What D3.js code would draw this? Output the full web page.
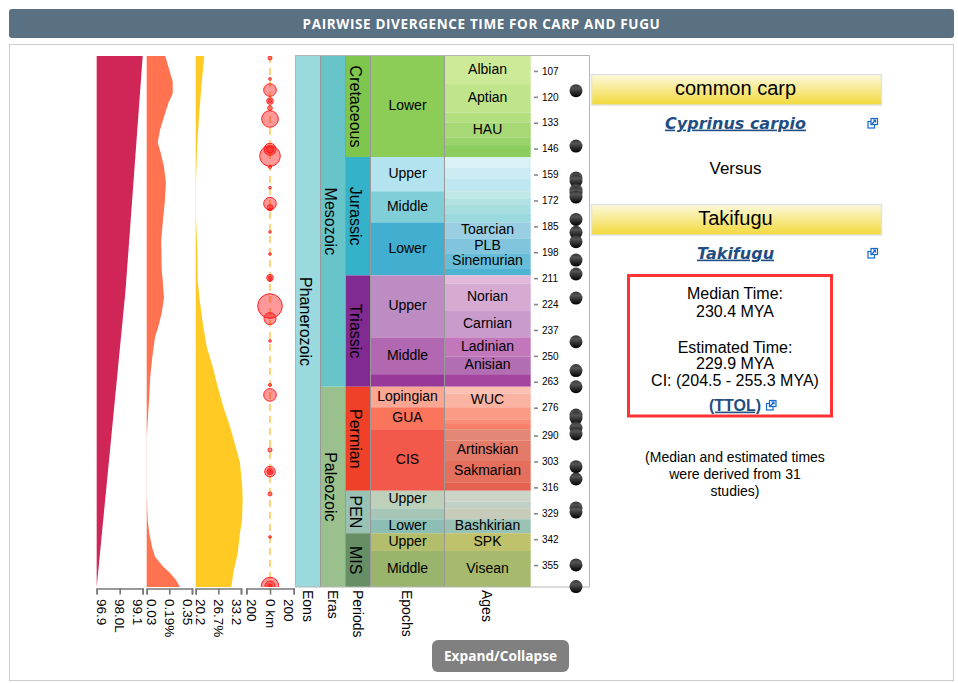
<!DOCTYPE html>
<html><head><meta charset="utf-8">
<script src="https://cdn.jsdelivr.net/npm/d3@7"></script>
<style>
html,body{margin:0;padding:0;background:#fff;overflow:hidden}
svg{display:block}
text{font-family:"Liberation Sans",Arial,sans-serif;fill:#000}
</style></head><body>
<script>
// ---------- data (all times in millions of years ago) ----------
const chartTitle = "PAIRWISE DIVERGENCE TIME FOR CARP AND FUGU";
const timeDomain = [99.5, 366];
const timeTicks = [107,120,133,146,159,172,185,198,211,224,237,250,263,276,290,303,316,329,342,355];

const eonNames = ["Phanerozoic"];
const eonBreaks = [99.5, 366];
const eonColors = ["#9AD9DD"];
const eraNames = ["Mesozoic","Paleozoic"];
const eraBreaks = [99.5, 265.5, 366];
const eraColors = ["#67C5CA","#99C08D"];
const periodNames = ["Cretaceous","Jurassic","Triassic","Permian","PEN","MIS"];
const periodBreaks = [99.5,150.2,209.6,265.5,317.7,339.0,366];
const periodColors = ["#7FC64E","#34B2C9","#812B92","#F04028","#99C2B5","#678F66"];
const epochNames = ["Lower","Upper","Middle","Lower","Upper","Middle","","Lopingian","GUA","CIS","Upper","","Lower","Upper","Middle"];
const epochBreaks = [99.5,150.2,167.4,183.0,209.6,240.7,259.2,265.5,275.8,286.8,317.7,326.5,332.0,339.0,347.9,366];
const epochColors = ["#8CCD57","#B3E3EE","#80CFD8","#42AED0","#BD8CC3","#B168B1","#983999","#FBA794","#FB745C","#F2594A","#BFD0BA","#A6C7B7","#8CBEB4","#B3BE6C","#99B46C"];
const ageNames = ["Albian","Aptian","","HAU","","",
  "","","","","","","","Toarcian","PLB","Sinemurian","",
  "","Norian","Carnian","Ladinian","Anisian","",
  "","WUC","","","","","Artinskian","Sakmarian","",
  "","","","Bashkirian","SPK","Visean"];
const ageBreaks = [99.5,113.6,127.8,132.8,140.3,144.2,150.2,
  155.7,161.2,167.4,170.9,174.3,178.4,183.0,191.0,198.5,206.0,209.6,
  213.6,227.5,240.7,250.4,259.2,265.5,
  268.8,275.8,281.8,284.2,286.8,292.6,302.3,313.4,317.7,
  323.2,326.5,332.0,339.0,347.9,366];
const ageColors = ["#CCEA97","#BFE48A","#B3DF7F","#A6D975","#99D36A","#8CCD60",
  "#D9F1F7","#CCECF4","#BFE7F1","#BFE7E5","#B3E2E3","#A6DDE0","#9AD9DD","#99CEE3","#80C5DD","#67BCD8","#4EB3D3",
  "#E3B9DB","#D6AAD3","#C99BCB","#C277BA","#B26EB2","#A4469F",
  "#FCC0B2","#FCB4A2","#FB9A85","#FB8D76","#FB8069","#E38776","#E37B68","#E36F5C","#E36350",
  "#CCD4C7","#BFD0C5","#C7CBB9","#99C2B5","#BFC26B","#A6B96C"];

const co2Time = [99.5, 217, 366];
const co2Values = [99.1, 98.28, 96.9];
const o2Time = [99.5,112.4,118.2,123.2,130,136.6,142.8,148.2,155.1,163.2,171.8,183.3,191.8,206.9,211.9,220.9,228.5,235.4,240.4,250.4,260.5,270.5,280.5,290.6,320.7,332.4,338.9,345.8,350.8,355.8,359,362.5,366];
const o2Values = [0.161,0.214,0.214,0.183,0.152,0.124,0.108,0.129,0.152,0.166,0.159,0.143,0.133,0.136,0.143,0.152,0.136,0.112,0.089,0.07,0.055,0.048,0.039,0.031,0.031,0.037,0.048,0.067,0.089,0.147,0.195,0.237,0.265];
const tempTime = [99.5,113.1,130,146.7,163.2,180.2,196.9,211.9,222,232,245.4,255.4,265.5,275.5,285.5,295.6,303.8,315.7,322.3,332.4,338.9,349,359,366];
const tempValues = [22.67,21.92,21.15,20.57,20.29,20.29,20.66,20.77,21.35,22.09,23.36,25.08,26.51,28.12,30.04,31.68,32.91,33.57,33.69,33.49,32.91,32.25,30.99,30.42];

const impactTime = [100.5,111,116.6,122.1,122.1,125.6,131.1,146.3,146.3,149.7,155.2,165.6,173.6,175.6,176.4,187.8,198.9,210.8,210.8,212.1,225,231.3,242.5,264.6,269.6,297.2,308.1,308.1,308.1,319.3,340.9,365.5,365.5,365.5];
const impactSize = [4,1.7,39.7,10.9,2.9,5.3,69,36,13.7,106,2.2,1.7,39.7,9,2.2,1.7,1.7,10.9,2.9,1.7,151,36,1.7,2.2,39.7,4,28,9,2.2,4,1.7,76,25,4];

const studyTimes = [116.9,144.7,160.7,162.2,166.8,168.3,170.3,181.5,188,192.7,201.9,208.9,221,242.9,257.4,265.5,279.7,281.2,286.2,289.2,305.6,311.8,326.3,328.4,354.9,365.8];

const axisA = {domain:[96.9,99.1], ticks:[96.9,98.0,99.1], labels:["96.9","98.0L","99.1"]};
const axisB = {domain:[0.03,0.35], ticks:[0.03,0.19,0.35], labels:["0.03","0.19%","0.35"]};
const axisC = {domain:[20.2,33.2], ticks:[20.2,26.7,33.2], labels:["20.2","26.7%","33.2"]};
const axisD = {domain:[-200,200], ticks:[-200,0,200], labels:["200","0 km","200"]};
const columnTitles = ["Eons","Eras","Periods","Epochs","Ages"];

// ---------- layout ----------
const W=958,H=683, plotTop=56, plotBottom=587;
const y = d3.scaleLinear().domain(timeDomain).range([plotTop,plotBottom]);
const col = {eon:[295.3,320.7],era:[320.7,345.3],per:[345.3,370.7],epo:[370.7,444.3],age:[444.3,530.7]};
const svg = d3.select("body").append("svg").attr("width",W).attr("height",H);
const defs = svg.append("defs");
function lin(id,stops){const g=defs.append("linearGradient").attr("id",id).attr("x1",0).attr("x2",0).attr("y1",0).attr("y2",1);
  stops.forEach(s=>g.append("stop").attr("offset",s[0]).attr("stop-color",s[1]));}
lin("banner",[[0,"#FDF9DD"],[1,"#F2D93A"]]);
lin("ball",[[0,"#333"],[0.3,"#555"],[1,"#000"]]);
defs.append("clipPath").attr("id","plot").append("rect").attr("x",90).attr("y",plotTop).attr("width",205).attr("height",plotBottom-plotTop);

// header + frame
svg.append("rect").attr("x",9).attr("y",9).attr("width",945).attr("height",29).attr("rx",3).attr("fill","#5A7083");
svg.append("text").attr("x",481.5).attr("y",29).attr("text-anchor","middle").style("letter-spacing","0.62px")
  .style("font-family","'Open Sans'").style("font-weight",700).style("font-size","13.5px").style("fill","#fff").text(chartTitle);
svg.append("rect").attr("x",9.5).attr("y",44.5).attr("width",944).attr("height",636).attr("fill","none").attr("stroke","#ccc");

// geologic columns
function band(names,breaks,colors,xr,rot,fs){
  const g=svg.append("g");
  g.selectAll("rect").data(colors).join("rect")
    .attr("x",xr[0]).attr("width",xr[1]-xr[0])
    .attr("y",(d,i)=>y(breaks[i])).attr("height",(d,i)=>y(breaks[i+1])-y(breaks[i])).attr("fill",d=>d);
  const mx=(xr[0]+xr[1])/2;
  g.selectAll("text").data(names).join("text")
    .attr("text-anchor","middle").attr("dy",rot?".5em":".35em").style("font-size",fs+"px")
    .attr("transform",(d,i)=>{const m=(y(breaks[i])+y(breaks[i+1]))/2;
      return rot?`translate(${mx},${m}) rotate(90)`:`translate(${mx},${m-1})`;})
    .text(d=>d);
}
band(eonNames,eonBreaks,eonColors,col.eon,true,16);
band(eraNames,eraBreaks,eraColors,col.era,true,16);
band(periodNames,periodBreaks,periodColors,col.per,true,16);
band(epochNames,epochBreaks,epochColors,col.epo,false,14);
band(ageNames,ageBreaks,ageColors,col.age,false,14);

// frame + column lines
const lines=svg.append("g").attr("stroke","#999").attr("fill","none");
[295.5,320.5,345.5,370.5,444.5].forEach(x=>lines.append("line").attr("x1",x).attr("x2",x).attr("y1",plotTop).attr("y2",plotBottom));
lines.append("rect").attr("x",295.5).attr("y",plotTop-.5).attr("width",294).attr("height",plotBottom-plotTop+.5).attr("stroke","#b5b5b5");

// time axis
const tAxis=svg.append("g").attr("transform","translate(534,0)").call(d3.axisRight(y).tickValues(timeTicks).tickSize(4).tickPadding(4).tickFormat(d=>d));
tAxis.select(".domain").remove();
tAxis.selectAll("line").attr("stroke","#888").attr("stroke-width",1.6);
tAxis.selectAll("text").style("font-size","10px").style("font-family","'Liberation Sans'");

// study dots
svg.append("g").selectAll("circle").data(studyTimes).join("circle")
  .attr("cx",576).attr("cy",d=>y(d)).attr("r",6.5).attr("fill","url(#ball)");

// side panels
const xA=d3.scaleLinear().domain(axisA.domain).range([96.7,142.7]);
const xB=d3.scaleLinear().domain(axisB.domain).range([146.7,192]);
const xC=d3.scaleLinear().domain(axisC.domain).range([195.7,241]);
const xD=d3.scaleLinear().domain(axisD.domain).range([246.3,293.7]);
function areaPanel(times,vals,xs,color){
  const a=d3.area().x0(xs.range()[0]).x1((d,i)=>xs(vals[i])).y(d=>y(d));
  svg.append("path").attr("d",a(times)).attr("fill",color);
}
areaPanel(co2Time,co2Values,xA,"#CF2557");
areaPanel(o2Time,o2Values,xB,"#FF7350");
areaPanel(tempTime,tempValues,xC,"#FFCA24");

svg.append("line").attr("x1",xD(0)).attr("x2",xD(0)).attr("y1",plotTop).attr("y2",plotBottom)
  .attr("stroke","#FFD27F").attr("stroke-width",2).attr("stroke-dasharray","7 5");
const rScale=d3.scaleSqrt().domain([0,151]).range([0,12.3]);
svg.append("g").attr("clip-path","url(#plot)").selectAll("circle").data(impactTime).join("circle")
  .attr("cx",xD(0)).attr("cy",d=>y(d)).attr("r",(d,i)=>rScale(impactSize[i]))
  .attr("fill","rgba(255,0,0,.4)").attr("stroke","#f22").attr("stroke-width",1);

[[axisA,xA],[axisB,xB],[axisC,xC],[axisD,xD]].forEach(([ax,sc])=>{
  const g=svg.append("g").attr("transform","translate(0,588.5)")
    .call(d3.axisBottom(sc).tickValues(ax.ticks).tickSize(6).tickFormat((d,i)=>ax.labels[i]));
  g.selectAll("path,line").attr("stroke","#777").attr("stroke-width",1.6);
  g.selectAll("text").attr("text-anchor","start").style("font-size","13.5px").style("font-family","'Liberation Sans'")
    .attr("dy",0).attr("x",0)
    .attr("y",(d,i)=>["0",".36em",".72em"][i])
    .attr("transform","translate(0,10.5) rotate(90)");
});

// column titles
const titleX=[307.7,332.7,357.7,406.7,487.3];
svg.append("g").selectAll("text").data(columnTitles).join("text")
  .attr("transform",(d,i)=>`translate(${titleX[i]},590) rotate(90)`).attr("dy",".35em")
  .style("font-size","14px").text(d=>d);

// right panel
const panelX=735.5;
function banner(yTop,label){
  svg.append("rect").attr("x",591.5).attr("y",yTop).attr("width",290).attr("height",30.5)
    .attr("fill","url(#banner)").attr("stroke","#e2e2e2").attr("stroke-width",1.4);
  svg.append("text").attr("x",panelX).attr("y",yTop+13.5).attr("dy",".35em").attr("text-anchor","middle").style("font-size","20px").text(label);
}
function icon(x,yc){
  const g=svg.append("g").attr("transform",`translate(${x},${yc})`).attr("fill","none").attr("stroke","#1468D0").attr("stroke-width",1.2);
  g.append("rect").attr("x",-4.5).attr("y",-1.5).attr("width",6.5).attr("height",6.5).attr("fill","#fff");
  g.append("rect").attr("x",-1.5).attr("y",-4.5).attr("width",6.5).attr("height",6).attr("fill","#fff");
  g.append("path").attr("d","M-1.5,2 L3,-3 M0.5,-3 H3 V-0.5");
}
function speciesLink(yc,label){
  svg.append("text").attr("x",panelX).attr("y",yc).attr("dy",".35em").attr("text-anchor","middle")
    .style("font-family","'DejaVu Sans'").style("font-weight",700).style("font-style","italic").style("font-size","16px")
    .style("fill","#1F4E83").style("text-decoration","underline").text(label);
  icon(872.5,yc);
}
banner(74.5,"common carp");
speciesLink(123,"Cyprinus carpio");
svg.append("text").attr("x",panelX).attr("y",168).attr("dy",".35em").attr("text-anchor","middle").style("font-size","17px").text("Versus");
banner(204.5,"Takifugu");
speciesLink(253,"Takifugu");

svg.append("rect").attr("x",628.5).attr("y",275.5).attr("width",203).attr("height",140.5)
  .attr("fill","none").attr("stroke","#F33").attr("stroke-width",3);
[["Median Time:",293.5],["230.4 MYA",311],["Estimated Time:",347],["229.9 MYA",363.5],["CI: (204.5 - 255.3 MYA)",380.5]].forEach(([t,yc])=>{
  svg.append("text").attr("x",735).attr("y",yc).attr("dy",".35em").attr("text-anchor","middle").style("font-size","16px").text(t);
});
svg.append("text").attr("x",735).attr("y",405).attr("dy",".35em").attr("text-anchor","middle")
  .style("font-size","16px").style("font-weight",700).style("fill","#1F4E83").style("text-decoration","underline").text("(TTOL)");
icon(771,405);
[["(Median and estimated times",457.5],["were derived from 31",474.5],["studies)",491.5]].forEach(([t,yc])=>{
  svg.append("text").attr("x",735).attr("y",yc).attr("dy",".35em").attr("text-anchor","middle").style("font-size","14px").text(t);
});

// button
svg.append("rect").attr("x",432).attr("y",640).attr("width",137).attr("height",32).attr("rx",6).attr("fill","#808080");
svg.append("text").attr("x",500.5).attr("y",656).attr("dy",".35em").attr("text-anchor","middle")
  .style("font-family","'Open Sans'").style("font-weight",700).style("font-size","13.7px").style("fill","#fff").text("Expand/Collapse");
</script>
</body></html>
